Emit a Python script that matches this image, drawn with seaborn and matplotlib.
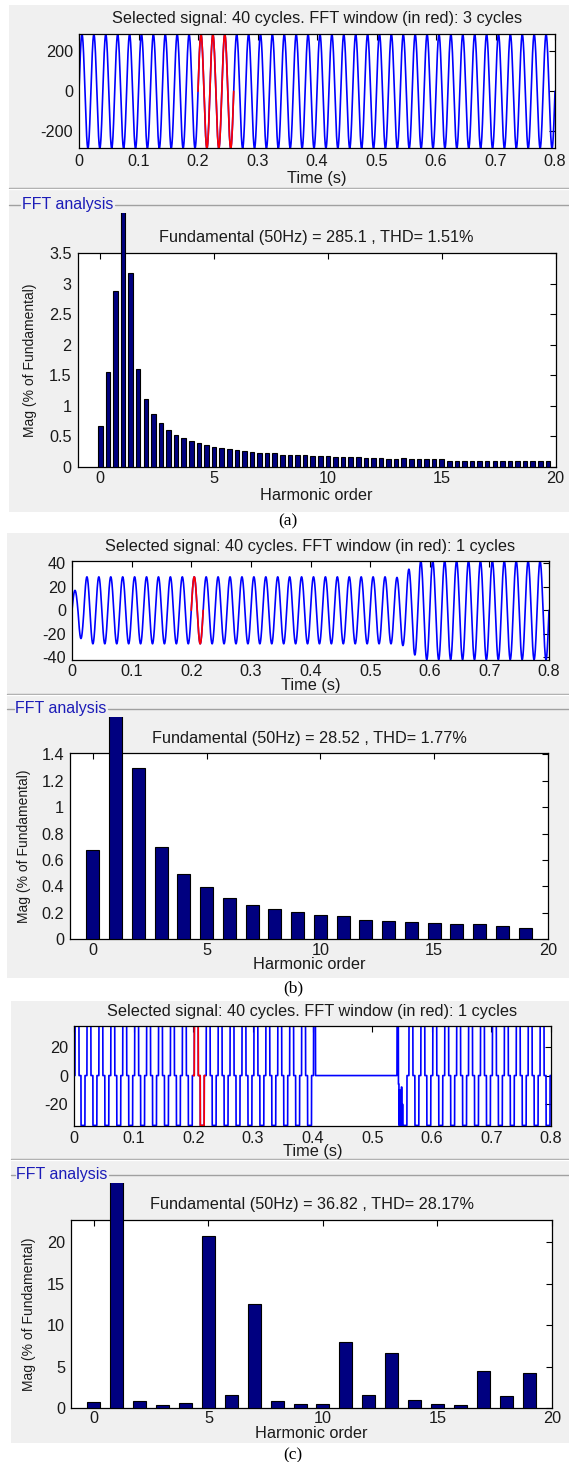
import numpy as np
import matplotlib
matplotlib.use("Agg")
import matplotlib.pyplot as plt
import seaborn as sns
from matplotlib.patches import Rectangle
from matplotlib.lines import Line2D
from matplotlib.transforms import Bbox, TransformedBbox
from matplotlib.ticker import FuncFormatter

# ---------------- data ----------------
TIME_TICKS = [0, 0.1, 0.2, 0.3, 0.4, 0.5, 0.6, 0.7, 0.8]
HARM_TICKS = [0, 5, 10, 15, 20]

# (a) signal: per-cycle positive peak / negative trough (40 cycles of 50 Hz)
SIG_A_PEAKS = [285.1] * 40
SIG_A_TROUGHS = [-285.1] * 40
SIG_A_WINDOW = [0.20, 0.26]
SIG_A_YTICKS = [-200, 0, 200]

# (b) signal
SIG_B_PEAKS = [17] + [28.5] * 26 + [28, 35] + [42] * 11
SIG_B_TROUGHS = [-24] + [-28.5] * 26 + [-30, -38] + [-42] * 11
SIG_B_WINDOW = [0.20, 0.22]
SIG_B_YTICKS = [-40, -20, 0, 20, 40]

# (c) signal: quasi-square level per cycle, switched off between 0.405 s and 0.54 s
SIG_C_LEVEL = [34.7] * 21 + [0] * 6 + [34.7] * 13
SIG_C_OFF = [0.405, 0.54]
SIG_C_BURST_T = [0.5440, 0.5450, 0.5458, 0.5466, 0.5474, 0.5482, 0.5490, 0.5498, 0.5506, 0.5514, 0.5525]
SIG_C_BURST_V = [-6, -34.7, -10, -34.7, -14, -34.7, -8, -34.7, -20, -34.7, -34.7]
SIG_C_WINDOW = [0.20, 0.22]
SIG_C_YTICKS = [-20, 0, 20]

# FFT spectra (% of fundamental)
FFT_A_ORDER = [i / 3 for i in range(60)]
FFT_A_MAG = [0.66, 1.55, 2.88, 100, 3.18, 1.61, 1.11, 0.86, 0.71, 0.61,
             0.52, 0.47, 0.42, 0.39, 0.35, 0.33, 0.30, 0.29, 0.27, 0.255,
             0.24, 0.22, 0.22, 0.22, 0.20, 0.19, 0.19, 0.19, 0.17, 0.17,
             0.17, 0.16, 0.16, 0.16, 0.16, 0.14, 0.14, 0.14, 0.12, 0.12,
             0.14, 0.12, 0.12, 0.12, 0.12, 0.12, 0.10, 0.10, 0.10, 0.10,
             0.10, 0.09, 0.10, 0.10, 0.10, 0.09, 0.09, 0.09, 0.10, 0.09]
FFT_A_YTICKS = [0, 0.5, 1, 1.5, 2, 2.5, 3, 3.5]

FFT_B_ORDER = list(range(20))
FFT_B_MAG = [0.676, 100, 1.294, 0.696, 0.492, 0.396, 0.315, 0.26, 0.232, 0.204,
             0.184, 0.179, 0.149, 0.136, 0.129, 0.121, 0.116, 0.116, 0.103, 0.088]
FFT_B_YTICKS = [0, 0.2, 0.4, 0.6, 0.8, 1, 1.2, 1.4]

FFT_C_ORDER = list(range(20))
FFT_C_MAG = [0.72, 100, 0.88, 0.40, 0.64, 20.8, 1.65, 12.53, 0.88, 0.52,
             0.52, 8.03, 1.57, 6.71, 1.0, 0.52, 0.40, 4.5, 1.45, 4.3]
FFT_C_YTICKS = [0, 5, 10, 15, 20]

SIG_TITLES = ["Selected signal: 40 cycles. FFT window (in red): 3 cycles",
              "Selected signal: 40 cycles. FFT window (in red): 1 cycles",
              "Selected signal: 40 cycles. FFT window (in red): 1 cycles"]
FFT_TITLES = ["Fundamental (50Hz) = 285.1 , THD= 1.51%",
              "Fundamental (50Hz) = 28.52 , THD= 1.77%",
              "Fundamental (50Hz) = 36.82 , THD= 28.17%"]
CAPTIONS = ["(a)", "(b)", "(c)"]

# ---------------- style ----------------
W, H = 569, 1462
sns.set_theme(style="white")
plt.rcParams['font.family'] = ['Liberation Sans', 'DejaVu Sans']
TXT = '#1a1a1a'
FS = 11.7

fig = plt.figure(figsize=(W / 100, H / 100), dpi=100)
fig.patch.set_facecolor('white')


def fy(y):
    return 1 - y / H


def add_axes(box):
    l, t, r, b = box
    return fig.add_axes([l / W, 1 - b / H, (r - l) / W, (b - t) / H])


def build_sine(t, peaks, troughs, f=50.0):
    k = np.minimum((t * f).astype(int), len(peaks) - 1)
    s = np.sin(2 * np.pi * f * t)
    amp = np.where(s >= 0, np.asarray(peaks)[k], -np.asarray(troughs)[k])
    return amp * s


def build_quasi_square(t, levels, f=50.0):
    k = np.minimum((t * f).astype(int), len(levels) - 1)
    s = np.sin(2 * np.pi * f * t)
    return np.asarray(levels)[k] * np.sign(s) * (np.abs(s) > 0.5)


def style(ax, box, xticks, yticks, xlim, ylim, xpad_px, ypad_px=6):
    ax.set_xlim(*xlim)
    ax.set_ylim(*ylim)
    ax.set_xticks(xticks)
    ax.set_yticks(yticks)
    fmt = FuncFormatter(lambda v, p: f'{v:g}')
    ax.xaxis.set_major_formatter(fmt)
    ax.yaxis.set_major_formatter(fmt)
    ax.tick_params(axis='both', direction='in', length=4, width=0.8, top=True, right=True,
                   color='black', labelcolor=TXT, labelsize=FS)
    ax.tick_params(axis='x', pad=xpad_px * 0.72)
    ax.tick_params(axis='y', pad=ypad_px * 0.72)
    for s in ax.spines.values():
        s.set_visible(True)
        s.set_color('black')
        s.set_linewidth(0.9)
    ax.set_facecolor('white')
    ax.grid(False)


def place_labels(ax, box, title, title_y, xlabel, xlabel_y, ylabel=None, ylabel_x=None):
    l, t, r, b = box
    ax.set_title(title, y=(b - title_y) / (b - t), va='center', fontsize=FS, color=TXT, pad=0)
    ax.set_xlabel(xlabel, fontsize=FS, color=TXT)
    ax.xaxis.label.set_va('center')
    ax.xaxis.set_label_coords(0.5, (b - xlabel_y) / (b - t))
    if ylabel:
        ax.set_ylabel(ylabel, fontsize=10, color=TXT)
        ax.yaxis.label.set_va('center')
        ax.yaxis.set_label_coords((ylabel_x - l) / (r - l), 0.5)
    else:
        ax.set_ylabel('')


def signal_panel(box, t, v, window, yticks, ylim, title, title_y, xlabel_y, xpad):
    ax = add_axes(box)
    sns.lineplot(x=t, y=v, ax=ax, color='blue', linewidth=1.2, estimator=None, sort=False)
    m = (t >= window[0]) & (t <= window[1])
    sns.lineplot(x=t[m], y=v[m], ax=ax, color='red', linewidth=1.2, estimator=None, sort=False)
    style(ax, box, TIME_TICKS, yticks, (0, 0.8), ylim, xpad)
    place_labels(ax, box, title, title_y, "Time (s)", xlabel_y)
    return ax


def fft_panel(box, order, mag, width, yticks, ylim, title, title_y, xlabel_y, ylabel_x, xpad, clip_top):
    ax = add_axes(box)
    sns.barplot(x=order, y=mag, ax=ax, native_scale=True, width=width, color='#000080',
                saturation=1, edgecolor='black', linewidth=0.8, errorbar=None)
    style(ax, box, HARM_TICKS, yticks, (-1, 20), ylim, xpad)
    place_labels(ax, box, title, title_y, "Harmonic order", xlabel_y,
                 "Mag (% of Fundamental)", ylabel_x)
    l, t, r, b = box
    cb = TransformedBbox(Bbox.from_extents(l / W, fy(b), r / W, fy(clip_top)), fig.transFigure)
    for p in ax.patches:
        p.set_clip_path(None)
        p.set_clip_box(cb)
        p.set_clip_on(True)
        p.set_zorder(3)
    return ax


def panel_frame(x0, y0, y1, sep_y, group_y, label_x, caption, caption_xy):
    rect = Rectangle((x0 / W, fy(y1)), (W - x0) / W, (y1 - y0) / H, transform=fig.transFigure,
                     facecolor='#f0f0f0', edgecolor='none', zorder=-10)
    fig.add_artist(rect)
    fig.add_artist(Line2D([x0 / W, 1], [fy(sep_y), fy(sep_y)], transform=fig.transFigure,
                          color='#a0a0a0', lw=1.0, zorder=-5))
    fig.add_artist(Line2D([x0 / W, 1], [fy(sep_y + 1), fy(sep_y + 1)], transform=fig.transFigure,
                          color='white', lw=1.0, zorder=-5))
    txt = fig.text(label_x / W, fy(group_y), "FFT analysis", color='#1c1cb8', fontsize=11.5,
                   ha='left', va='center')
    fig.canvas.draw()
    ext = txt.get_window_extent()
    fig.add_artist(Line2D([x0 / W, (ext.x0 - 1.5) / W], [fy(group_y), fy(group_y)],
                          transform=fig.transFigure, color='#a0a0a0', lw=1.0, zorder=-5))
    fig.add_artist(Line2D([(ext.x1 + 1.5) / W, 1], [fy(group_y), fy(group_y)],
                          transform=fig.transFigure, color='#a0a0a0', lw=1.0, zorder=-5))
    fig.text(caption_xy[0] / W, fy(caption_xy[1]), caption,
             family=['Liberation Serif', 'DejaVu Serif'], fontsize=12.5, color='black',
             ha='center', va='center')


t = np.linspace(0, 0.8, 16001)

# ---- (a)
panel_frame(9, 5, 511.7, 188, 205, 22, CAPTIONS[0], (288, 521))
va = build_sine(t, SIG_A_PEAKS, SIG_A_TROUGHS)
signal_panel((79, 34.3, 555, 148.3), t, va, SIG_A_WINDOW, SIG_A_YTICKS, (-285.1, 285.1),
             SIG_TITLES[0], 19, 178.3, 6)
fft_panel((77.5, 253.3, 555.5, 466.7), FFT_A_ORDER, FFT_A_MAG, 0.6, FFT_A_YTICKS, (0, 3.5),
          FFT_TITLES[0], 237.7, 495.7, 30.5, 4.3, 212.7)

# ---- (b)
panel_frame(6.5, 533, 977.7, 694.3, 709, 15, CAPTIONS[1], (293, 988))
vb = build_sine(t, SIG_B_PEAKS, SIG_B_TROUGHS)
signal_panel((72, 561, 549, 660), t, vb, SIG_B_WINDOW, SIG_B_YTICKS, (-42.3, 42),
             SIG_TITLES[1], 546.7, 685.7, 3.5)
fft_panel((70, 752.7, 548, 939.3), FFT_B_ORDER, FFT_B_MAG, 0.57, FFT_B_YTICKS, (0, 1.413),
          FFT_TITLES[1], 738.3, 964.3, 24, 3.5, 716.7)

# ---- (c)
panel_frame(11, 1001, 1442.7, 1159.3, 1175, 16.4, CAPTIONS[2], (293, 1455))
vc = build_quasi_square(t, SIG_C_LEVEL)
vc[(t >= SIG_C_OFF[0]) & (t < SIG_C_OFF[1])] = 0
bm = (t >= SIG_C_BURST_T[0]) & (t < SIG_C_BURST_T[-1])
idx = np.searchsorted(SIG_C_BURST_T, t[bm], side='right') - 1
vc[bm] = np.asarray(SIG_C_BURST_V)[idx]
signal_panel((74, 1025.7, 551, 1125.7), t, vc, SIG_C_WINDOW, SIG_C_YTICKS, (-34.9, 34.7),
             SIG_TITLES[2], 1011.7, 1151.7, 5)
fft_panel((71, 1220, 552, 1408.3), FFT_C_ORDER, FFT_C_MAG, 0.57, FFT_C_YTICKS, (0, 22.7),
          FFT_TITLES[2], 1205, 1434, 29, 3, 1183.3)

fig.savefig("out.png", dpi=100, facecolor='white')
